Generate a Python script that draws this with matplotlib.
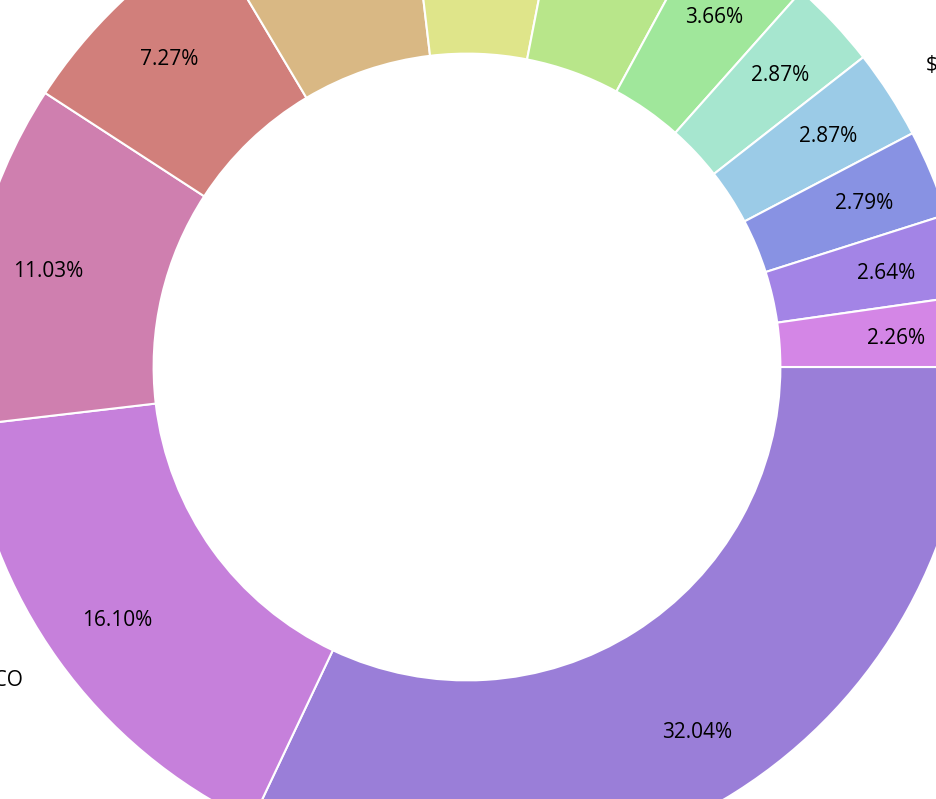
import matplotlib
matplotlib.use("Agg")
import matplotlib.pyplot as plt

plt.rcParams['font.family'] = ['Open Sans', 'DejaVu Sans']

# Data (clockwise from 3 o'clock)
categories = ["HOUSTON", "SAN FRANCISCO", "NEW YORK", "BOSTON", "CHICAGO",
              "DENVER", "SEATTLE", "MIAMI", "AUSTIN", "$ OTHER",
              "DALLAS", "PHOENIX", "ATLANTA"]
shares = [32.04, 16.10, 11.03, 7.27, 6.68, 4.95, 4.84, 3.66, 2.87, 2.87, 2.79, 2.64, 2.26]
colors = ["#9a7ed8", "#c680db", "#cf7faf", "#d17f7b", "#d9b884", "#dfe58a",
          "#b8e68a", "#a0e79b", "#a6e6cf", "#9bcbe7", "#8892e3", "#a384e6", "#d486e6"]

fig = plt.figure(figsize=(9.36, 7.99), dpi=100)
ax = fig.add_axes([0, 0, 1, 1])

wedges, texts, autotexts = ax.pie(
    shares, labels=categories, colors=colors, startangle=0, counterclock=False,
    autopct='%.2f%%', pctdistance=0.855, labeldistance=1.086, radius=1.0,
    wedgeprops=dict(width=0.377, edgecolor='white', linewidth=1.5),
    textprops=dict(fontsize=15, color='black'))

for t in texts:
    t.set_verticalalignment('baseline')
for t in autotexts:
    t.set_verticalalignment('center_baseline')

ax.set_xlim(-0.9284, 0.9324)
ax.set_ylim(-0.8588, 0.7296)
ax.set_aspect('equal', adjustable='box')
ax.axis('off')

fig.savefig("out.png", dpi=100)
